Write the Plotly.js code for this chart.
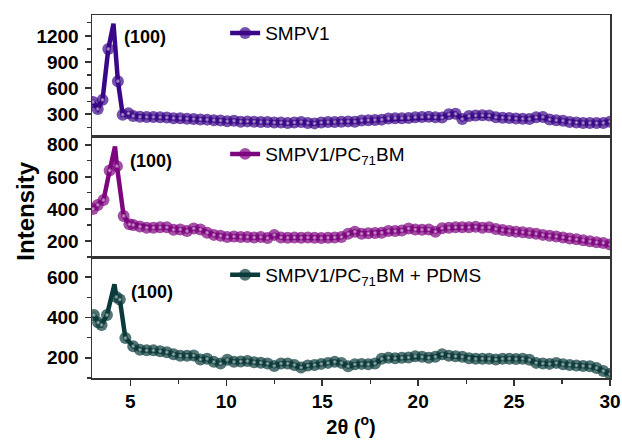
<!DOCTYPE html>
<html>
<head>
<meta charset="utf-8">
<script src="https://cdn.plot.ly/plotly-3.0.1.min.js"></script>
<style>html,body{margin:0;padding:0;background:#fff;}#chart{width:622px;height:440px;}</style>
</head>
<body>
<div id="chart"></div>
<script>
// ---- Data ----
const seriesNames = ["SMPV1", "SMPV1/PC<sub>71</sub>BM", "SMPV1/PC<sub>71</sub>BM + PDMS"];
const peakLabel = "(100)";

const xTail = [5.15,5.5,5.85,6.2,6.55,6.9,7.25,7.6,7.95,8.3,8.65,9.0,9.35,9.7,10.05,10.4,10.75,11.1,11.45,11.8,
  12.15,12.5,12.85,13.2,13.55,13.9,14.25,14.6,14.95,15.3,15.65,16.0,16.35,16.7,17.05,17.4,17.75,18.1,18.45,18.8,
  19.15,19.5,19.85,20.2,20.55,20.9,21.25,21.6,21.95,22.3,22.65,23.0,23.35,23.7,24.05,24.4,24.75,25.1,25.45,25.8,
  26.15,26.5,26.85,27.2,27.55,27.9,28.25,28.6,28.95,29.3,29.65,30.0];

const s1HeadX = [3.05, 3.3, 3.55, 3.85, 4.35, 4.6, 4.9];
const s1HeadY = [440, 360, 465, 1050, 680, 295, 310];
const s1Peak = [4.12, 1340];
const s1TailY = [280,270,268,268,265,262,255,255,248,245, 240,238,232,228,220,225,215,218,215,210,
  212,205,205,198,205,212,200,195,205,210, 212,215,218,215,228,232,235,238,252,255,
  255,258,265,268,270,265,262,300,305,245, 280,285,288,285,265,260,258,250,248,245,
  265,268,240,232,225,210,205,200,200,198, 200,215];

const s2HeadX = [3.05, 3.3, 3.6, 3.92, 4.3, 4.65, 4.95];
const s2HeadY = [400, 425, 455, 640, 667, 356, 304];
const s2Peak = [4.2, 790];
const s2TailY = [300,290,283,283,285,285,270,272,262,278, 272,252,238,232,225,228,225,225,222,225,
  218,238,222,220,222,220,222,220,218,220, 222,225,245,258,245,248,250,252,262,262,
  265,278,272,270,272,258,280,282,285,285, 285,288,282,285,275,268,262,258,255,250,
  245,238,232,228,222,215,210,205,198,192, 188,178];

const s3HeadX = [3.1, 3.32, 3.5, 3.78, 4.27, 4.45, 4.74];
const s3HeadY = [412, 375, 363, 412, 502, 489, 298];
const s3Peak = [4.17, 565];
const s3TailY = [258,240,237,237,233,228,218,210,210,212, 192,195,180,172,190,180,182,184,178,176,
  172,160,172,172,165,152,162,165,170,175, 180,175,158,168,170,168,172,195,200,198,
  200,202,208,205,200,205,218,210,208,205, 198,195,196,195,192,195,196,194,195,190,
  175,172,170,175,168,165,162,160,158,150, 135,120];

const peakLabelPos = [[4.55, 1190], [4.9, 700], [4.95, 526]];

// ---- Styles ----
const colors = ["#3a0788", "#7d067f", "#0b3a3a"];
const axisPairs = [["x3", "y"], ["x2", "y2"], ["x", "y3"]];
const legendIds = ["legend", "legend2", "legend3"];
const FONT = "Liberation Sans, Arial, sans-serif";

function build(headX, headY, peak, tailY) {
  const pts = headX.map((v, i) => [v, headY[i], true]);
  pts.push([peak[0], peak[1], false]);
  xTail.forEach((v, i) => pts.push([v, tailY[i], true]));
  pts.sort((a, b) => a[0] - b[0]);
  return pts;
}

const all = [
  build(s1HeadX, s1HeadY, s1Peak, s1TailY),
  build(s2HeadX, s2HeadY, s2Peak, s2TailY),
  build(s3HeadX, s3HeadY, s3Peak, s3TailY)
];

const traces = [];
all.forEach((pts, k) => {
  const xs = pts.map(p => p[0]);
  const ys = pts.map(p => p[1]);
  traces.push({
    type: "scatter", mode: "lines+markers", name: seriesNames[k],
    x: xs, y: ys, xaxis: axisPairs[k][0], yaxis: axisPairs[k][1],
    legend: legendIds[k],
    line: {color: colors[k], width: 4.5},
    marker: {color: colors[k], size: pts.map(p => p[2] ? 12 : 0), symbol: "circle", line: {width: 0}},
    hoverinfo: "x+y"
  });
  traces.push({
    type: "scatter", mode: "markers", showlegend: false,
    x: xs, y: ys, xaxis: axisPairs[k][0], yaxis: axisPairs[k][1],
    marker: {color: colors[k], size: pts.map(p => p[2] ? 5 : 0), line: {width: 0},
             gradient: {type: "radial", color: "#ffffff"}},
    hoverinfo: "skip"
  });
});

const frame = {showline: true, linecolor: "#333", linewidth: 1.5, mirror: true, showgrid: false, zeroline: false};
const tickFont = {family: FONT, size: 19, color: "#000", weight: "bold"};

function yAxis(domain, range, tickvals, minorStep, anchor) {
  return Object.assign({}, frame, {
    domain: domain, range: range, anchor: anchor, tickmode: "array", tickvals: tickvals,
    ticks: "outside", ticklen: 6, tickwidth: 1.5, tickcolor: "#333", tickfont: tickFont,
    minor: {ticks: "outside", ticklen: 4, tickwidth: 1.2, tickcolor: "#333", dtick: minorStep, tick0: 0},
    ticklabelstandoff: 2
  });
}

const legendBase = (y) => ({
  x: 0.257, xanchor: "left", y: y, yanchor: "middle", bgcolor: "rgba(0,0,0,0)",
  font: {family: FONT, size: 19, color: "#000"}, itemwidth: 30
});

const layout = {
  width: 622, height: 440,
  margin: {l: 92, r: 12, t: 15, b: 62},
  paper_bgcolor: "#fff", plot_bgcolor: "#fff",
  xaxis: Object.assign({}, frame, {
    domain: [0, 1], anchor: "y3", range: [3, 30], tick0: 0, dtick: 5,
    ticks: "outside", ticklen: 6, tickwidth: 1.5, tickcolor: "#333", tickfont: tickFont,
    minor: {ticks: "outside", ticklen: 4, tickwidth: 1.2, tickcolor: "#333", dtick: 2.5, tick0: 0},
    title: {text: "2θ (<sup>o</sup>)", font: {family: FONT, size: 20, color: "#000", weight: "bold"}, standoff: 6}
  }),
  xaxis2: Object.assign({}, frame, {matches: "x", anchor: "y2", showticklabels: false, ticks: ""}),
  xaxis3: Object.assign({}, frame, {matches: "x", anchor: "y", showticklabels: false, ticks: ""}),
  yaxis: yAxis([2/3, 1], [50, 1440], [300, 600, 900, 1200], 150, "x3"),
  yaxis2: yAxis([1/3, 2/3], [100, 855], [200, 400, 600, 800], 100, "x2"),
  yaxis3: yAxis([0, 1/3], [100, 700], [200, 400, 600], 100, "x"),
  legend: legendBase(0.950),
  legend2: legendBase(0.617),
  legend3: legendBase(0.284),
  showlegend: true,
  annotations: [
    {text: "Intensity", xref: "paper", yref: "paper", x: -0.16, y: 0.46, textangle: -90,
     showarrow: false, font: {family: FONT, size: 24, color: "#000", weight: "bold"}}
  ].concat(peakLabelPos.map((p, k) => ({
    text: peakLabel, xref: axisPairs[k][0], yref: axisPairs[k][1], x: p[0], y: p[1],
    xanchor: "left", yanchor: "middle", showarrow: false,
    font: {family: FONT, size: 18, color: "#000", weight: "bold"}
  })))
};

Plotly.newPlot("chart", traces, layout, {displayModeBar: false, staticPlot: true});
</script>
</body>
</html>
